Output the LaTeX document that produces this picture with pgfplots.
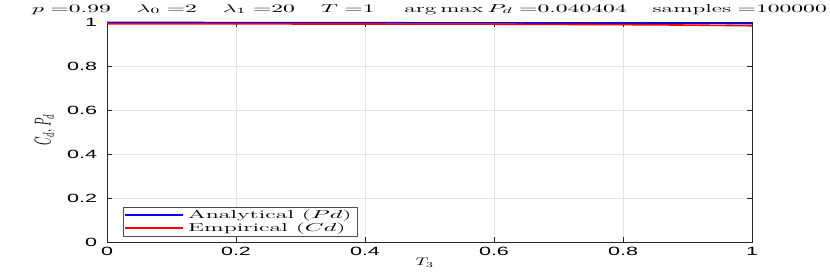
\RequirePackage{fix-cm}
\documentclass[border=0pt]{standalone}
\usepackage{fontspec}
\newfontfamily\ticksf{Liberation Sans}
\usepackage{pgfplots}
\pgfplotsset{compat=1.18}
\newcommand{\tgap}{\hspace{12.6pt}}
\begin{document}
\begin{tikzpicture}[x=1bp,y=1bp]
\useasboundingbox (0,0) rectangle (830,273);
\begin{axis}[
  at={(107bp,31bp)}, anchor=south west,
  scale only axis, width=645bp, height=220bp,
  xmin=0, xmax=1, ymin=0, ymax=1,
  xtick={0,0.2,...,1}, ytick={0,0.2,...,1},
  xticklabels={0,0.2,0.4,0.6,0.8,1},
  yticklabels={0,0.2,0.4,0.6,0.8,1},
  tick align=inside,
  major tick length=5bp,
  grid=major,
  grid style={gray!20, line width=0.6bp},
  axis line style={black!85, line width=0.8bp},
  every tick/.style={black!85, line width=0.6bp},
  every tick label/.append style={font=\ticksf\fontsize{12}{14}\selectfont, xscale=1.8},
  xticklabel style={yshift=-2bp},
  yticklabel style={xshift=-2bp},
  xlabel={$T_3$},
  xlabel style={font=\fontsize{11}{12}\selectfont, xscale=1.6, at={(axis description cs:0.493,-0.109)}, anchor=base},
  ylabel={$C_d$, $P_d$},
  ylabel style={font=\fontsize{11}{13}\selectfont, at={(axis description cs:-0.096,0.51)}, anchor=center, yscale=2.1},
  title={$p\;{=}0.99\tgap \lambda_0\;{=}2\tgap \lambda_1\;{=}20\tgap T\;{=}1\tgap \arg\max P_d\;{=}0.040404\tgap \mathrm{samples}\;{=}100000$},
  title style={font=\fontsize{11.5}{13}\selectfont, xscale=2.06, at={(axis description cs:0.5,1)}, anchor=base, yshift=4bp},
  legend style={at={(axis description cs:0.025,0.027)}, anchor=south west,
    font=\fontsize{11.5}{12}\selectfont, draw=black!70,
    inner sep=1bp, row sep=-1bp,
    nodes={xscale=2.1}},
  legend cell align=left,
  legend image code/.code={\draw[#1] (0bp,0bp) -- (58bp,0bp);},
]
\addplot[draw=blue, line width=1.6bp] coordinates {
(0,0.998) (0.1,0.998) (0.2,0.997) (0.3,0.997) (0.4,0.997) (0.5,0.996) (0.6,0.996) (0.7,0.995) (0.8,0.995) (0.9,0.994) (1,0.993)};
\addlegendentry{Analytical ($Pd$)}
\addplot[draw=red, line width=1.6bp] coordinates {
(0,0.992) (0.1,0.992) (0.2,0.992) (0.3,0.991) (0.4,0.991) (0.5,0.990) (0.6,0.990) (0.7,0.989) (0.8,0.988) (0.9,0.986) (1,0.983)};
\addlegendentry{Empirical ($Cd$)}
\node[font=\fontsize{8}{9}\selectfont, xscale=1.3] at (axis description cs:0.5,1.021) {$T_3$};
\end{axis}
\end{tikzpicture}
\end{document}
